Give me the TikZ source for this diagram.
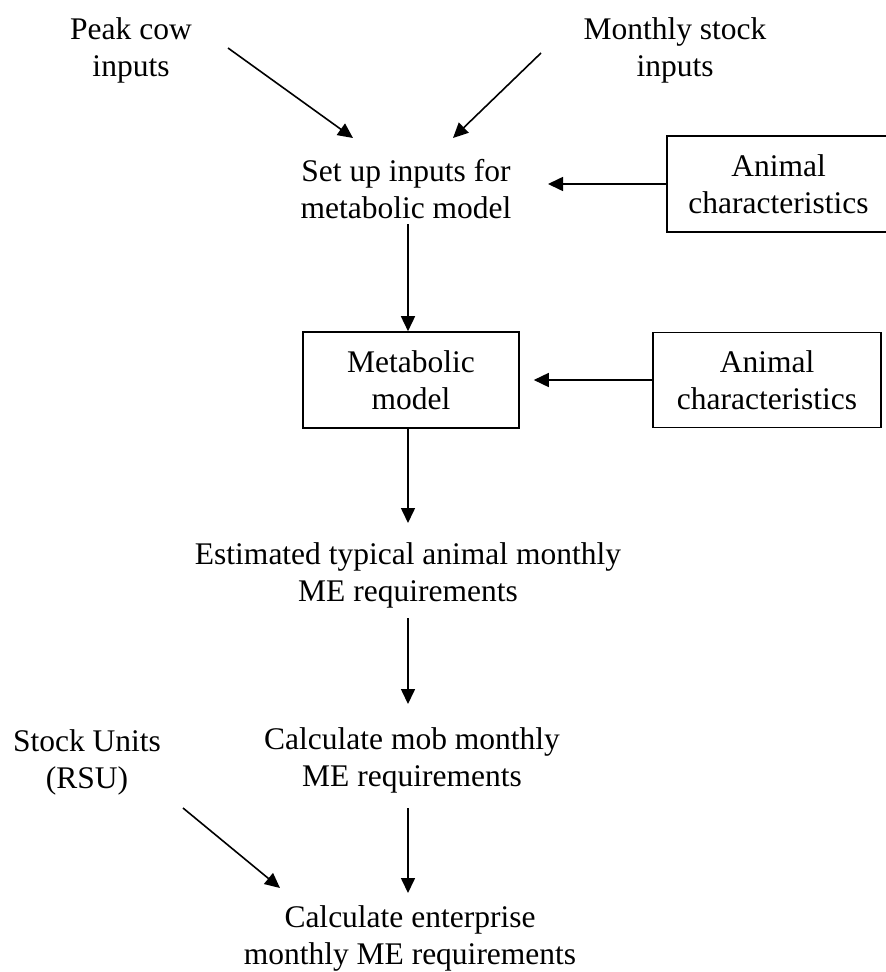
\documentclass[tikz,border=0pt]{standalone}
\usepackage{fontspec}
\setmainfont{Liberation Serif}
\usetikzlibrary{arrows.meta}
\begin{document}
\begin{tikzpicture}[x=1pt,y=-1pt,
  txt/.style={align=center,inner sep=0pt,font=\fontsize{31.5}{37}\selectfont},
  boxnode/.style={txt,draw,line width=1.6pt},
  arr/.style={line width=1.6pt,-{Triangle[length=15pt,width=14pt]}}]
\useasboundingbox (0,0) rectangle (886,972);
\node[txt] (peak) at (131,50.5) {Peak cow\\inputs};
\node[txt] (monthly) at (675,50.5) {Monthly stock\\inputs};
\node[txt] (setup) at (406,189) {Set up inputs for\\metabolic model};
\node[boxnode,minimum width=223pt,minimum height=96pt] (ac1) at (778.5,184) {Animal\\characteristics};
\node[boxnode,minimum width=216pt,minimum height=96pt] (metab) at (411,380) {Metabolic\\model};
\node[boxnode,minimum width=228pt,minimum height=95pt] (ac2) at (767,380) {Animal\\characteristics};
\node[txt] (est) at (408,575) {Estimated typical animal monthly\\ME requirements};
\node[txt] (mob) at (412,760) {Calculate mob monthly\\ME requirements};
\node[txt] (rsu) at (87,762) {Stock Units\\(RSU)};
\node[txt] (ent) at (410,938) {Calculate enterprise\\monthly ME requirements};
\draw[arr] ([shift={(97,-2.5)}]peak.center) -- ([shift={(-53,-51)}]setup.center);
\draw[arr] ([shift={(-134,2.5)}]monthly.center) -- ([shift={(47,-51)}]setup.center);
\draw[arr] (ac1.west) -- ([shift={(142,-5)}]setup.center);
\draw[arr] ([shift={(2,35)}]setup.center) -- ([xshift=-3pt]metab.north);
\draw[arr,shorten >=14pt] (ac2.west) -- (metab.east);
\draw[arr] ([xshift=-3pt]metab.south) -- ([shift={(0,-52)}]est.center);
\draw[arr] ([shift={(0,43)}]est.center) -- ([shift={(-4,-56)}]mob.center);
\draw[arr] ([shift={(-4,48)}]mob.center) -- ([shift={(-2,-45)}]ent.center);
\draw[arr] ([shift={(96,46)}]rsu.center) -- ([shift={(-130,-50)}]ent.center);
\end{tikzpicture}
\end{document}
